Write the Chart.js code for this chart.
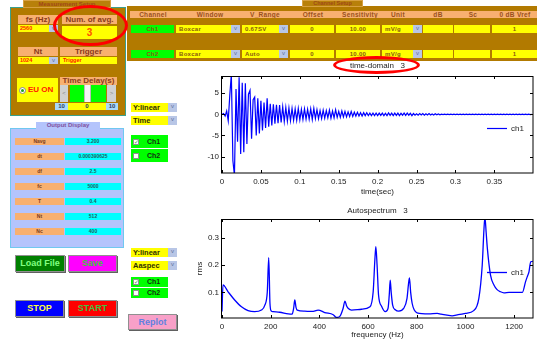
<!DOCTYPE html>
<html><head><meta charset="utf-8">
<script src="https://cdn.jsdelivr.net/npm/chart.js@4/dist/chart.umd.min.js"></script>
<style>
html,body{margin:0;padding:0;background:#fff}
#wrap{position:relative;width:537px;height:340px;overflow:hidden;font-family:"Liberation Sans",Arial,sans-serif}
.a{position:absolute;box-sizing:border-box;white-space:nowrap;overflow:hidden}
canvas{position:absolute}
</style></head><body><div id="wrap"></div>
<script>
// ---------------- chart data ----------------
const timeStep = 0.002; // s between samples of the time trace
const timeValues = [
 0,0.2,-0.4,0.8,-1.5,4.5,9.5,-11,-14.5,6,
 -6.5,8.8,-9.4,7.5,-9,7.4,-7,4.8,5.7,-5.8,
 3.5,4.1,-5,3.8,-4.5,3.2,-3.8,2.8,-3.2,3.8,
 -2.9,2.5,-2.6,2.4,-2.2,2.3,-2.1,2.2,-1.9,1.8,
 -1.7,1.6,-1.6,1.5,-1.5,1.4,-1.4,1.3,-1.4,1.4,
 -1.3,1.2,-1.2,1.3,-1.1,1.2,-1.1,1.3,-1.2,1.4,
 -1.0,1.1,-1.0,0.9,-1.0,1.0,-0.9,0.9,-0.8,1.0,
 -0.9,0.8,-0.8,1.1,-0.7,0.7,-0.7,0.8,-0.6,0.7,
 -0.6,0.6,-0.5,0.7,-0.5,0.5,-0.4,0.5,-0.4,0.4,
 -0.4,0.4,-0.3,0.4,-0.3,0.3,-0.3,0.3,-0.3,0.3,
 -0.3,0.3,-0.25,0.3,-0.3,0.25,-0.3,0.35,-0.25,0.3,
 -0.3,0.3,-0.25,0.3,-0.3,0.25,-0.2,0.3,-0.25,0.3,
 -0.2,0.25,-0.3,0.2,-0.2,0.15,-0.2,0.2,-0.15,0.2,
 -0.2,0.15,-0.15,0.2,-0.15,0.1,-0.15,0.15,-0.1,0.1,
 -0.1,0.05,-0.05,0.05,-0.05,0.05,-0.05,0.05,-0.05,0.05,
 -0.05,0.05,-0.05,0.05,-0.05,0.05,-0.05,0.05,-0.05,0.05,
 -0.05,0.05,-0.05,0.05,-0.05,0.05,-0.05,0.05,-0.05,0.05,
 -0.05,0.05,-0.05,0.05,-0.05,0.05,-0.05,0.05,-0.05,0.05,
 -0.05,0.05,-0.05,0.05,-0.05,0.05,-0.05,0.05,-0.05,0.05,
 -0.05,0.05,-0.05,0.05,-0.05,0.05,-0.05,0.05,-0.05,0
];
const freqHz = [0,4,25,52,80,107,134,162,176,186,192,197,202,210,237,272,288,294,299,304,309,340,370,395,422,457,470,484,497,505,512,519,532,573,608,621,628,632,637,643,655,671,682,687,691,695,701,712,726,746,760,766,770,775,781,790,801,849,884,900,945,970,1000,1034,1055,1069,1076,1080,1085,1090,1103,1117,1130,1144,1158,1179,1234,1247,1255,1261,1268,1277];
const rmsValues = [0.03,0.127,0.102,0.072,0.047,0.033,0.029,0.035,0.053,0.1,0.227,0.06,0.032,0.029,0.027,0.021,0.02,0.04,0.072,0.045,0.035,0.031,0.03,0.035,0.026,0.018,0.008,0.012,0.04,0.068,0.05,0.041,0.035,0.038,0.047,0.102,0.22,0.267,0.2,0.09,0.05,0.029,0.041,0.09,0.145,0.1,0.053,0.036,0.031,0.041,0.078,0.13,0.153,0.1,0.06,0.035,0.025,0.021,0.023,0.02,0.014,0.018,0.023,0.033,0.078,0.2,0.33,0.375,0.32,0.261,0.163,0.127,0.11,0.102,0.098,0.1,0.1,0.139,0.16,0.175,0.212,0.213];
const timeXTicks = [0,0.05,0.1,0.15,0.2,0.25,0.3,0.35];
const timeYTicks = [-10,-5,0,5];
const specXTicks = [0,200,400,600,800,1000,1200];
const specYTicks = [0.1,0.2,0.3];

// ---------------- GUI (static panel decoration) ----------------
const W = document.getElementById('wrap');
function B(x,y,w,h,css,txt){const d=document.createElement('div');d.className='a';d.style.cssText=`left:${x}px;top:${y}px;width:${w}px;height:${h}px;`+(css||'');if(txt!=null)d.textContent=txt;W.appendChild(d);return d;}
const BR='#b27a00', SAL='#f8b070', YEL='#ffff00', BTN='background:#b8c6e6;color:#6070a0;font-size:6px;text-align:center;line-height:7px;';
const salT='background:'+SAL+';color:#8a3a1a;font-weight:bold;font-size:8px;text-align:center;line-height:9px;';
function dd(x,y,w,h,txt,css,btn){B(x,y,w,h,'background:'+YEL+';'+css,txt);if(btn)B(x+w-9,y,9,h,BTN,'v');}

// Measurement Setup
B(10,7,116,109,'background:'+BR+';border:1px solid #3aa08c;');
B(23,0,88,8,'background:#b8800a;border:1px solid #d8a040;color:#a04818;font-weight:bold;font-size:6px;text-align:center;line-height:6px;','Measurement Setup');
B(18,15,40,9,salT,'fs (Hz)');
dd(18,25,40,7,'2560','color:#ff2000;font-size:5.5px;font-weight:bold;line-height:7px;padding-left:2px;',true);
B(62,15,55,9,salT,'Num. of avg.');
B(62,26,55,13,'background:'+YEL+';color:#ff5000;font-weight:bold;font-size:10px;text-align:center;line-height:13px;','3');
B(18,47,40,9,salT,'Nt');
dd(18,57,40,7,'1024','color:#ff2000;font-size:5.5px;font-weight:bold;line-height:7px;padding-left:2px;',true);
B(60,47,57,9,salT,'Trigger');
dd(60,57,57,7,'Trigger','color:#ff2000;font-size:5.5px;font-weight:bold;line-height:7px;padding-left:3px;',false);
B(17,78,41,24,'background:'+YEL+';');
B(19,87,7,7,'background:#fff;border:1px solid #888;border-radius:50%;');
B(21,89,3,3,'background:#20a020;border-radius:50%;');
B(28,78,30,24,'color:#ff2000;font-weight:bold;font-size:8px;line-height:24px;','EU ON');
B(60,77,57,8,salT+'line-height:8px;','Time Delay(s)');
B(60,85,8,17,'background:#d0d0d0;color:#888;font-size:6px;text-align:center;line-height:17px;','<');
B(70,85,14,17,'background:#00ff00;');
B(84,85,7,17,'background:#f4f4f4;border-left:1px solid #bbb;border-right:1px solid #bbb;');
B(91,85,15,17,'background:#00ff00;');
B(107,85,9,17,'background:#d0d0d0;color:#888;font-size:6px;text-align:center;line-height:17px;','>');
B(55,103,13,7,'background:#a8d8f8;color:#304060;font-size:6px;text-align:center;line-height:7px;font-weight:bold;','10');
B(68,103,38,7,'background:'+YEL+';color:#304060;font-size:6px;text-align:center;line-height:7px;font-weight:bold;','0');
B(106,103,12,7,'background:#a8d8f8;color:#304060;font-size:6px;text-align:center;line-height:7px;font-weight:bold;','10');

// Channel Setup
B(127,6,410,55,'background:'+BR+';');
B(302,0,61,7,'background:#b8800a;border:1px solid #d8a040;color:#a04818;font-weight:bold;font-size:5.5px;text-align:center;line-height:5px;','Channel Setup');
B(130,11,407,7,'background:'+SAL+';');
const hdr=[['Channel',153],['Window',210],['V_Range',265],['Offset',313],['Sensitivity',360],['Unit',398],['dB',438],['Sc',473],['0 dB Vref',515]];
hdr.forEach(([t,c])=>B(c-30,11,60,7,'color:#9a5020;font-weight:bold;font-size:6.5px;text-align:center;line-height:7px;letter-spacing:0.3px;',t));
const rowT='font-weight:bold;font-size:6px;line-height:8px;color:#8a5a10;letter-spacing:0.3px;';
[[25,'Ch1','0.67SV'],[50,'Ch2','Auto']].forEach(([y,ch,vr])=>{
  B(131,y,43,8,'background:#00ff00;color:#207020;text-align:center;'+rowT,ch);
  dd(176,y,64,8,'Boxcar',rowT+'padding-left:3px;',true);
  dd(242,y,46,8,vr,rowT+'padding-left:3px;',true);
  dd(290,y,44,8,'0',rowT+'text-align:center;',false);
  dd(336,y,44,8,'10.00',rowT+'text-align:center;',false);
  dd(382,y,40,8,'mV/g',rowT+'padding-left:3px;',true);
  dd(423,y,30,8,'',rowT,false);
  dd(454,y,36,8,'',rowT,false);
  dd(492,y,45,8,'1',rowT+'text-align:center;',false);
});

// Output Display
B(10,128,114,120,'background:#b4c4fc;border:1px solid #70c8f0;');
B(36,122,64,7,'background:#b4c4fc;color:#8050a0;font-weight:bold;font-size:6px;text-align:center;line-height:7px;','Output Display');
const outL=['Navg','dt','df','fc','T','Nt','Nc'], outV=['3.200','0.000390625','2.5','5000','0.4','512','400'];
outL.forEach((l,i)=>{const y=138+15*i;
  B(15,y,49,7,'background:'+SAL+';color:#7a3a1a;font-size:5px;text-align:center;line-height:7px;font-weight:bold;',l);
  B(65,y,56,7,'background:#00ffff;color:#206060;font-size:5px;text-align:center;line-height:7px;font-weight:bold;',outV[i]);});

// Buttons
const btnC='border:1px solid #909090;box-shadow:1px 1px 0 #606060;font-weight:bold;font-size:9px;text-align:center;line-height:15px;';
B(15,255,50,17,btnC+'background:#008000;color:#80ff80;','Load File');
B(68,255,49,17,btnC+'background:#ff00ff;color:#40c040;','Save');
B(15,300,49,17,btnC+'background:#0000ff;color:#ffff40;','STOP');
B(68,300,49,17,btnC+'background:#ff0000;color:#40c040;','START');
B(128,314,49,16,btnC+'background:#f8a0c8;color:#6080e0;line-height:14px;','Replot');

// chart-side controls
const ddT='color:#303000;font-weight:bold;font-size:7.5px;line-height:9px;padding-left:2px;';
function chk(y,h,label,checked){B(131,y,37,h,'background:#00ff00;');B(133,y+(h-6)/2,6,6,'background:#fff;border:1px solid #909090;color:#40a040;font-size:6px;line-height:4px;text-align:center;',checked?'✓':'');B(147,y,20,h,'color:#103010;font-weight:bold;font-size:7px;line-height:'+h+'px;',label);}
dd(131,103,46,9,'Y:linear',ddT,true); dd(131,116,46,9,'Time',ddT,true);
chk(135,13,'Ch1',true); chk(149,13,'Ch2',false);
dd(131,248,46,9,'Y:linear',ddT,true); dd(131,261,46,9,'Aaspec',ddT,true);
chk(277,10,'Ch1',true); chk(288,10,'Ch2',false);

// ---------------- charts ----------------
function cv(x,y,w,h){const c=document.createElement('canvas');c.width=w;c.height=h;c.style.left=x+'px';c.style.top=y+'px';W.appendChild(c);return c;}
const FF='"Liberation Sans", Arial, sans-serif', TXT='#222';
const f8={size:8,family:FF,weight:'normal'};
const boxPlugin={id:'boxTicks',afterDatasetsDraw(chart){const {ctx,chartArea:a,scales:{x,y}}=chart;ctx.save();ctx.strokeStyle='#000';ctx.lineWidth=1;
  ctx.strokeRect(Math.round(a.left)-0.5,Math.round(a.top)+0.5,Math.round(a.right-a.left)+0.5,Math.round(a.bottom-a.top)-0.5);
  const L=3;ctx.beginPath();
  x.ticks.forEach(t=>{const p=Math.round(x.getPixelForValue(t.value))+0.5;ctx.moveTo(p,a.bottom);ctx.lineTo(p,a.bottom-L);ctx.moveTo(p,a.top);ctx.lineTo(p,a.top+L);});
  y.ticks.forEach(t=>{const p=Math.round(y.getPixelForValue(t.value))+0.5;ctx.moveTo(a.left,p);ctx.lineTo(a.left+L,p);ctx.moveTo(a.right,p);ctx.lineTo(a.right-L,p);});
  ctx.stroke();ctx.restore();}};
const legendTR={id:'legendTR',afterLayout(chart){const L=chart.legend,a=chart.chartArea;if(!L)return;const w=L.width,h=L.height;L.left=a.right-50;L.right=L.left+w;L.top=a.top+4;L.bottom=L.top+h;}};
function legendOpts(){return{display:true,position:'chartArea',labels:{usePointStyle:true,pointStyle:'line',pointStyleWidth:20,boxHeight:8,padding:4,font:f8,color:TXT}};}
function ticksFrom(arr){return s=>{s.ticks=arr.map(v=>({value:v}));};}

new Chart(cv(185,58,352,142),{
  type:'line',
  data:{datasets:[{label:'ch1',data:timeValues.map((v,i)=>({x:i*timeStep,y:v})),borderColor:'#0000ff',backgroundColor:'#0000ff',borderWidth:1.2,pointRadius:0,tension:0}]},
  options:{responsive:false,animation:false,devicePixelRatio:1,
    layout:{padding:{left:0,right:4,top:0,bottom:0}},
    plugins:{title:{display:true,fullSize:false,text:'time-domain   3',font:f8,color:TXT,padding:{top:2.7,bottom:5.7}},legend:legendOpts(),tooltip:{enabled:false}},
    scales:{
      x:{type:'linear',min:0,max:0.3996,afterBuildTicks:ticksFrom(timeXTicks),afterFit:s=>{s.height=27;},grid:{display:false,drawTicks:false},border:{display:false},
         ticks:{padding:4,font:f8,color:TXT,maxRotation:0,autoSkip:false,callback:v=>String(v)},
         title:{display:true,text:'time(sec)',font:f8,color:TXT,padding:{top:0,bottom:3.2}}},
      y:{type:'linear',min:-13.9,max:9.1,afterBuildTicks:ticksFrom(timeYTicks),afterFit:s=>{s.width=37;},grid:{display:false,drawTicks:false},border:{display:false},
         ticks:{padding:3,font:f8,color:TXT,autoSkip:false,callback:v=>String(v)}}
    }},
  plugins:[boxPlugin,legendTR]
});

new Chart(cv(185,200,352,140),{
  type:'line',
  data:{datasets:[{label:'ch1',data:freqHz.map((f,i)=>({x:f,y:rmsValues[i]})),borderColor:'#0000ff',backgroundColor:'#0000ff',borderWidth:1.3,pointRadius:0,cubicInterpolationMode:'monotone'}]},
  options:{responsive:false,animation:false,devicePixelRatio:1,
    layout:{padding:{left:0,right:4,top:0,bottom:0}},
    plugins:{title:{display:true,fullSize:false,text:'Autospectrum   3',font:f8,color:TXT,padding:{top:5.9,bottom:3.5}},legend:legendOpts(),tooltip:{enabled:false}},
    scales:{
      x:{type:'linear',min:0,max:1277.5,afterBuildTicks:ticksFrom(specXTicks),afterFit:s=>{s.height=22;},grid:{display:false,drawTicks:false},border:{display:false},
         ticks:{padding:4,font:f8,color:TXT,maxRotation:0,autoSkip:false,callback:v=>String(v)},
         title:{display:true,text:'frequency (Hz)',font:f8,color:TXT,padding:{top:0,bottom:0}}},
      y:{type:'linear',min:0.006,max:0.3685,afterBuildTicks:ticksFrom(specYTicks),afterFit:s=>{s.width=37;},grid:{display:false,drawTicks:false},border:{display:false},
         ticks:{padding:3,font:f8,color:TXT,autoSkip:false,callback:v=>String(v)},
         title:{display:true,text:'rms',font:f8,color:TXT,padding:{top:10.2,bottom:0}}}
    }},
  plugins:[boxPlugin,legendTR]
});

// red highlight ellipses (annotation drawn over the screenshot)
B(53,5,75,41,'border:3px solid #ff0000;border-radius:50%;');
B(333,56,87,18,'border:3px solid #ff0000;border-radius:50%;');
</script></body></html>
